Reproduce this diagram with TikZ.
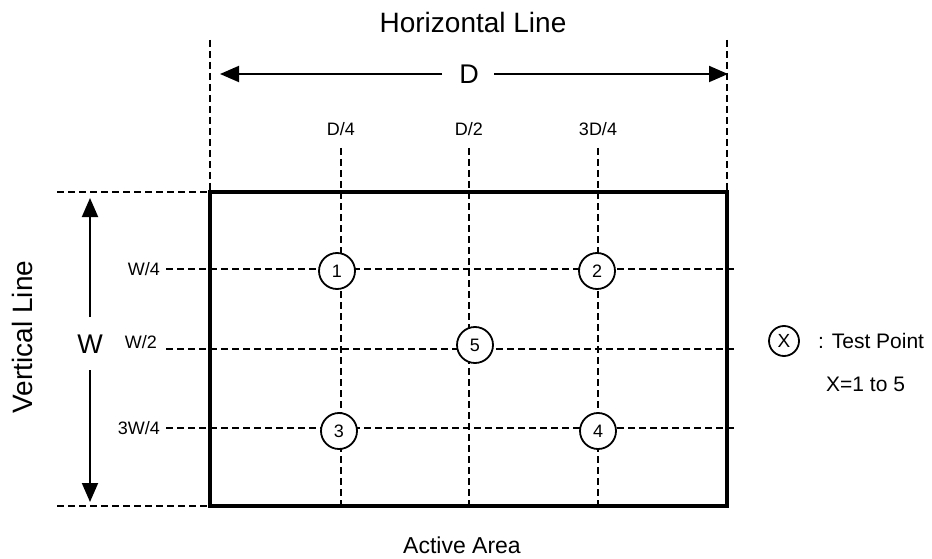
\documentclass[tikz,border=0pt]{standalone}
\usepackage{fontspec}
\setmainfont{Liberation Sans}
\usetikzlibrary{arrows.meta}
\tikzset{
  frame/.style={line width=3.3pt},
  extline/.style={line width=1.8pt, dash pattern=on 7pt off 4pt},
  gridline/.style={line width=1.8pt, dash pattern=on 7pt off 4pt},
  dimarrow/.style={line width=1.9pt, -{Triangle[length=19pt,width=16pt]}},
  tp/.style={circle, draw, line width=1.8pt, fill=white, minimum size=36pt, inner sep=0pt, font=\fontsize{18}{20}\selectfont},
  lbl/.style={inner sep=0pt, font=\fontsize{18}{20}\selectfont},
  big/.style={inner sep=0pt, font=\fontsize{28}{30}\selectfont},
}
\begin{document}
\begin{tikzpicture}[x=1pt,y=-1pt]
\useasboundingbox (0,0) rectangle (932,559);
% frame corners
\coordinate (tl) at (210,192);
\coordinate (tr) at (727,192);
\coordinate (bl) at (210,506);
\coordinate (br) at (727,506);
% extension lines
\coordinate (etl) at (210,40);
\coordinate (etr) at (727,40);
\coordinate (elt) at (57,192);
\coordinate (elb) at (57,506);
\draw[extline] (etl) -- (tl);
\draw[extline] (etr) -- (tr);
\draw[extline] (elt) -- (tl);
\draw[extline] (elb) -- (bl);
% grid lines
\coordinate (v1t) at (341,148); \coordinate (v1b) at (341,506);
\coordinate (v2t) at (469,148); \coordinate (v2b) at (469,506);
\coordinate (v3t) at (598,148); \coordinate (v3b) at (598,506);
\coordinate (h1l) at (166,269); \coordinate (h1r) at (735,269);
\coordinate (h2l) at (166,349); \coordinate (h2r) at (735,349);
\coordinate (h3l) at (166,428); \coordinate (h3r) at (735,428);
\draw[gridline] (v1t) -- (v1b);
\draw[gridline] (v2t) -- (v2b);
\draw[gridline] (v3t) -- (v3b);
\draw[gridline] (h1l) -- (h1r);
\draw[gridline] (h2l) -- (h2r);
\draw[gridline] (h3l) -- (h3r);
% frame
\draw[frame] (tl) -- (tr) -- (br) -- (bl) -- cycle;
% grid labels
\node[lbl] (ld4) at (341,129) {D/4};
\node[lbl] (ld2) at (469,129) {D/2};
\node[lbl] (l3d4) at (598,129) {3D/4};
\node[lbl, anchor=east] (lw4) at (160,269) {W/4};
\node[lbl, anchor=east] (lw2) at (157,342) {W/2};
\node[lbl, anchor=east] (l3w4) at (160,428) {3W/4};
% test points
\node[tp] (p1) at (337,271) {1};
\node[tp] (p2) at (597,271) {2};
\node[tp] (p3) at (339,431) {3};
\node[tp] (p4) at (598,431) {4};
\node[tp] (p5) at (475,345) {5};
% D dimension
\node[inner sep=0pt, font=\fontsize{27}{29}\selectfont] (dl) at (469,74) {D};
\coordinate (dla) at (442,74);
\coordinate (dra) at (494,74);
\coordinate (dlt) at (220,74);
\coordinate (drt) at (728,74);
\draw[dimarrow] (dla) -- (dlt);
\draw[dimarrow] (dra) -- (drt);
% W dimension
\node[inner sep=0pt, font=\fontsize{27}{29}\selectfont] (wl) at (90,344) {W};
\coordinate (wua) at (90,317);
\coordinate (wda) at (90,370);
\coordinate (wut) at (90,198);
\coordinate (wdt) at (90,502);
\draw[dimarrow] (wua) -- (wut);
\draw[dimarrow] (wda) -- (wdt);
% titles
\node[big] (ht) at (473,22) {Horizontal Line};
\node[big, rotate=90] (vt) at (22,337) {Vertical Line};
\node[inner sep=0pt, font=\fontsize{23}{25}\selectfont] (aa) at (462,545) {Active Area};
% legend
\node[circle, draw, line width=1.8pt, minimum size=30pt, inner sep=0pt, font=\fontsize{19}{21}\selectfont] (lx) at (784,341) {X};
\node[inner sep=0pt, anchor=west, font=\fontsize{21}{23}\selectfont] (lt) at (818,341) {: Test Point};
\node[inner sep=0pt, anchor=west, font=\fontsize{21}{23}\selectfont] (lr) at (826,384) {X=1 to 5};
\end{tikzpicture}
\end{document}
